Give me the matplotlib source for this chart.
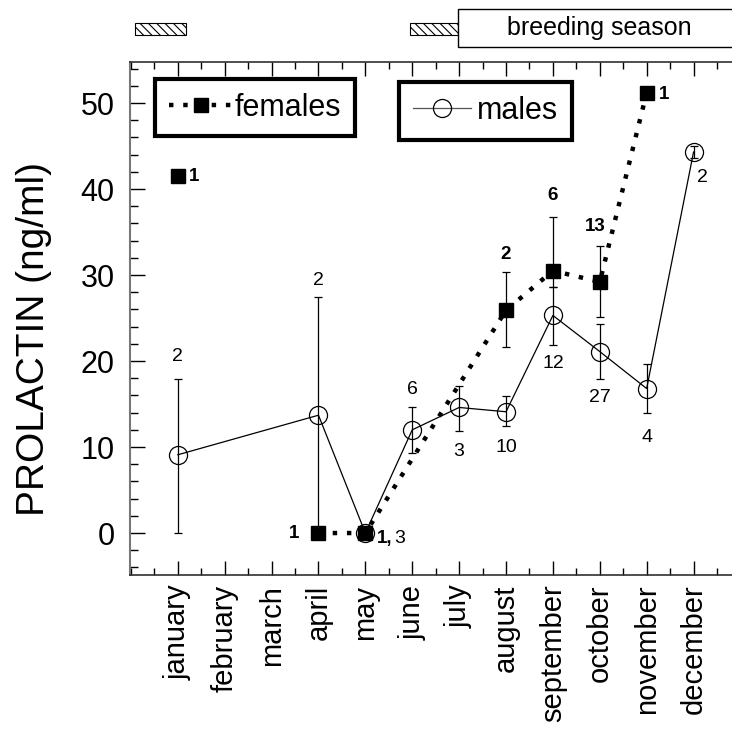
import matplotlib
matplotlib.use("Agg")
import matplotlib.pyplot as plt
import matplotlib.transforms as mtransforms
from matplotlib.patches import Rectangle
from matplotlib.lines import Line2D
from matplotlib.ticker import MultipleLocator

plt.rcParams["font.family"] = ["Liberation Sans", "DejaVu Sans"]
plt.rcParams["hatch.linewidth"] = 0.8

# --- data -----------------------------------------------------------------
months = ["january", "february", "march", "april", "may", "june", "july",
          "august", "september", "october", "november", "december"]

# females (month index, mean, lower, upper, n)
fem_x = [1, 4, 5, 8, 9, 10, 11]
fem_y = [41.5, 0.0, 0.0, 25.9, 30.5, 29.2, 51.2]
fem_lo = [41.5, 0.0, 0.0, 21.6, 28.6, 25.1, 51.2]
fem_hi = [41.5, 0.0, 0.0, 30.3, 36.8, 33.4, 51.2]
fem_n = ["1", "1", "1,", "2", "6", "13", "1"]

# males
male_x = [1, 4, 5, 6, 7, 8, 9, 10, 11, 12]
male_y = [9.1, 13.7, 0.0, 12.0, 14.6, 14.1, 25.3, 21.1, 16.8, 44.3]
male_lo = [0.0, 0.0, 0.0, 9.3, 11.9, 12.4, 21.9, 17.9, 14.0, 43.6]
male_hi = [17.9, 27.4, 0.0, 14.6, 17.1, 15.9, 28.6, 24.3, 19.6, 45.0]
male_n = ["2", "2", "3", "6", "3", "10", "12", "27", "4", "2"]

# periods drawn above the plot (in months)
hatched_periods = [(0.08, 1.17), (5.95, 6.97)]
breeding_start = 6.97

# label placement: (anchor, dx px, dy px, ha)
fem_lab = [("mid", 11, 0, "left"), ("mid", -19, 0, "right"), ("mid", 12, -5, "left"),
           ("hi", 0, 18, "center"), ("hi", 0, 21, "center"), ("hi", -5, 19, "center"),
           ("mid", 12, -2, "left")]
male_lab = [("hi", 0, 23, "center"), ("hi", 0, 17, "center"), ("mid", 29, -5, "left"),
            ("hi", 0, 18, "center"), ("lo", 0, -21, "center"), ("lo", 0, -21, "center"),
            ("lo", 0, -19, "center"), ("lo", 0, -18, "center"), ("lo", 0, -25, "center"),
            ("mid", 9, -25, "center")]

# --- figure ---------------------------------------------------------------
fig = plt.figure(figsize=(7.32, 7.31), dpi=100)
ax = fig.add_axes([130 / 732, 1 - 575 / 731, 602 / 732, 513 / 731])

# error bars
for xs, ys, los, his in ((male_x, male_y, male_lo, male_hi),
                         (fem_x, fem_y, fem_lo, fem_hi)):
    for x, y, lo, hi in zip(xs, ys, los, his):
        if hi > lo:
            ax.errorbar([x], [y], yerr=[[y - lo], [hi - y]], fmt="none", ecolor="black",
                        elinewidth=0.9, capsize=3, capthick=0.9, zorder=2)

# lines
ax.plot(male_x, male_y, color="black", lw=0.9, marker="o", ms=13, mfc="none",
        mec="black", mew=0.9, zorder=3)
ax.plot(fem_x[1:], fem_y[1:], color="black", lw=3.2, ls=(0, (1, 2.2)), zorder=4)
ax.plot(fem_x, fem_y, ls="none", marker="s", ms=9.5, color="black", zorder=5)

# n labels
def put_labels(xs, ys, los, his, texts, specs, weight):
    for x, y, lo, hi, t, (anc, dx, dy, ha) in zip(xs, ys, los, his, texts, specs):
        yy = {"mid": y, "hi": hi, "lo": lo}[anc]
        ax.annotate(t, (x, yy), xytext=(dx, dy), textcoords="offset pixels",
                    ha=ha, va="center", fontsize=13.5 if weight == "bold" else 14,
                    fontweight=weight, zorder=6)

put_labels(fem_x, fem_y, fem_lo, fem_hi, fem_n, fem_lab, "bold")
put_labels(male_x, male_y, male_lo, male_hi, male_n, male_lab, "normal")

# axes styling
ax.set_xlim(-0.02, 12.82)
ax.set_ylim(-4.88, 54.77)
ax.set_xticks(range(1, 13))
ax.set_xticklabels(months, rotation=90, fontsize=21)
ax.xaxis.set_minor_locator(MultipleLocator(0.5))
ax.yaxis.set_major_locator(MultipleLocator(10))
ax.yaxis.set_minor_locator(MultipleLocator(2))
ax.tick_params(axis="y", which="both", direction="in", labelsize=22, pad=11)
ax.tick_params(axis="y", which="major", length=11, width=1)
ax.tick_params(axis="y", which="minor", length=6, width=1)
ax.tick_params(axis="x", which="both", direction="in", top=True, pad=7)
ax.tick_params(axis="x", which="major", length=10, width=1)
ax.tick_params(axis="x", which="minor", length=5, width=1)
ax.spines["right"].set_visible(False)
for s in ("top", "bottom"):
    ax.spines[s].set_color("#303030")
    ax.spines[s].set_linewidth(1.2)
ax.spines["left"].set_color("#777777")
ax.spines["left"].set_linewidth(1.5)

fig.text(34 / 732, 1 - 339 / 731, "PROLACTIN (ng/ml)", rotation=90,
         ha="center", va="center", fontsize=28)

# legends (two separate framed boxes)
fem_handle = Line2D([], [], color="black", lw=3.2, ls=(0, (1, 2.2)), marker="s", ms=9.5)
male_handle = Line2D([], [], color="#555555", lw=0.9, marker="o", ms=13, mfc="none",
                     mec="black", mew=0.9)
leg1 = ax.legend([fem_handle], ["females"], loc="upper left", bbox_to_anchor=(0.0415, 0.967),
                 borderaxespad=0, fontsize=22, frameon=True, fancybox=False,
                 edgecolor="black", handlelength=2.1, handletextpad=0.05, borderpad=0.45)
leg1.get_frame().set_linewidth(3)
ax.add_artist(leg1)
leg2 = ax.legend([male_handle], ["males"], loc="upper left", bbox_to_anchor=(0.447, 0.961),
                 borderaxespad=0, fontsize=22, frameon=True, fancybox=False,
                 edgecolor="black", handlelength=1.9, handletextpad=0.2, borderpad=0.45)
leg2.get_frame().set_linewidth(3)
for lg in (leg1, leg2):
    lg.get_frame().set_alpha(1)

# periods above the plot
trans = mtransforms.blended_transform_factory(ax.transData, ax.transAxes)
for a, b in hatched_periods:
    ax.add_patch(Rectangle((a, 1.0536), b - a, 0.0218, transform=trans, clip_on=False,
                           facecolor="white", edgecolor="black", lw=0.8, hatch="\\\\\\\\"))
ax.add_patch(Rectangle((breeding_start, 1.0299), 7, 0.0728, transform=trans, clip_on=False,
                       facecolor="white", edgecolor="black", lw=1))
ax.text(9.98, 1.0665, "breeding season", transform=trans, ha="center", va="center",
        fontsize=18)

fig.savefig("out.png", dpi=100)
